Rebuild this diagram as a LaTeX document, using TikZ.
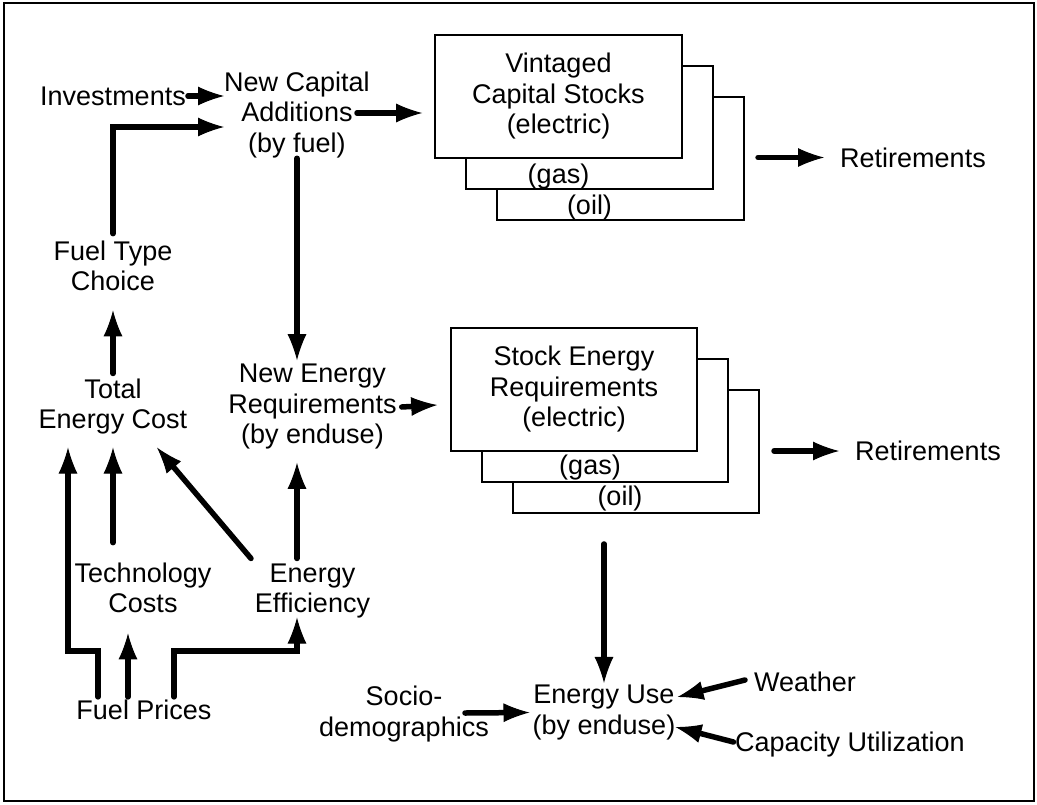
\documentclass[tikz,border=0pt]{standalone}
\usepackage{fontspec}
\setmainfont{Liberation Sans}
\usetikzlibrary{arrows.meta,calc}
\begin{document}
\begin{tikzpicture}[x=1pt,y=-1pt,
  txt/.style={inner sep=0pt, align=center, font=\fontsize{27}{30.5}\selectfont},
  stackbox/.style={draw, fill=white, line width=1.6pt, minimum width=247pt, minimum height=123pt, inner sep=0pt, align=center, font=\fontsize{27}{30.5}\selectfont},
  arr/.style={line width=5.5pt, line cap=round, -{Latex[length=26pt,width=19pt,line width=1pt]}}]
\useasboundingbox (0,0) rectangle (1037,804);
\draw[line width=2.5pt] (4,3) rectangle (1034,801);

% stacked boxes (capital stocks)
\node[stackbox] (vcs3) at (620.5,158.5) {};
\node[stackbox] (vcs2) at (589.5,127.5) {};
\node[stackbox] (vcs) at (558.5,96.5) {Vintaged\\Capital Stocks\\(electric)};
\node[txt] (g1) at (558.5,176.5) {(gas)};
\node[txt] (o1) at (589.5,207.5) {(oil)};

% stacked boxes (stock energy)
\node[stackbox, minimum width=246pt] (ses3) at (636,451.5) {};
\node[stackbox, minimum width=246pt] (ses2) at (605,420.5) {};
\node[stackbox, minimum width=246pt] (ses) at (574,389.5) {Stock Energy\\Requirements\\(electric)};
\node[txt] (g2) at (590,468) {(gas)};
\node[txt] (o2) at (620,498.5) {(oil)};

% text nodes
\node[txt] (inv) at (113,96) {Investments};
\node[txt] (nca) at (297,115) {New Capital\\Additions\\(by fuel)};
\node[txt] (ftc) at (113,266) {Fuel Type\\Choice};
\node[txt] (tec) at (113,406.5) {Total\\Energy Cost};
\node[txt] (ner) at (312.5,407) {New Energy\\Requirements\\(by enduse)};
\node[txt] (tc) at (143,588) {Technology\\Costs};
\node[txt] (ee) at (312.5,591) {Energy\\Efficiency};
\node[txt] (fp) at (144,710) {Fuel Prices};
\node[txt] (sd) at (404,714) {Socio-\\demographics};
\node[txt] (eu) at (604,712.5) {Energy Use\\(by enduse)};
\node[txt] (we) at (805,681.5) {Weather};
\node[txt] (cu) at (850,744.5) {Capacity Utilization};
\node[txt] (r1) at (913,157.5) {Retirements};
\node[txt] (r2) at (928,451) {Retirements};

% connectors
\draw[arr, shorten <=2pt] (inv.east) -- (inv.east -| nca.west);
\draw[arr] ([yshift=7pt]ftc.north) |- ($(nca.west)+(0,12)$);
\draw[arr] ($(nca.center)+(60,-2)$) -- ($(vcs.west)+(-12,16.5)$);
\draw[arr] (nca.south) -- ($(nca.south |- ner.north)+(0,-4)$);
\draw[arr] ([yshift=5pt]tec.north) -- ([yshift=-19pt]ftc.south);
\draw[arr] ([xshift=5pt]ner.east) -- ($(ses.west |- ner.east)+(-13,-2)$);

\draw[arr] ($(fp.north)+(-46,-3)$) -- ++(0,-46) -| ($(tec.south)+(-45,13)$);
\draw[arr] ($(fp.north)+(-16,-3)$) -- ($(tc.south)+(-15,20)$);
\draw[arr] ($(fp.north)+(30,-3)$) -- ++(0,-46) -| ($(ee.south)+(-15.5,-1)$);
\draw[arr] ($(tc.north)+(-30,-20)$) -- ($(tec.south)+(0,13)$);
\draw[arr] ($(ee.north)+(-61.5,-5)$) -- ($(tec.south)+(44,13)$);
\draw[arr] ($(ee.north)+(-15.5,-5)$) -- ($(ner.south)+(-15.5,13)$);

\draw[arr] ($(eu.north)+(0,-141)$) -- ($(eu.north)+(0,-2)$);
\draw[arr] ($(sd.center)+(61,-1)$) -- ($(eu.west)+(-3,0)$);
\draw[arr] ($(we.west)+(-9,-1.5)$) -- ($(eu.east)+(2,-15.5)$);
\draw[arr] ($(cu.west)+(-1.5,-2.5)$) -- ($(eu.east)+(0,14.5)$);

\draw[arr] ($(r1.west)+(-82,0)$) -- ($(r1.west)+(-16,0)$);
\draw[arr] ($(r2.west)+(-81,0)$) -- ($(r2.west)+(-16,0)$);
\end{tikzpicture}
\end{document}
